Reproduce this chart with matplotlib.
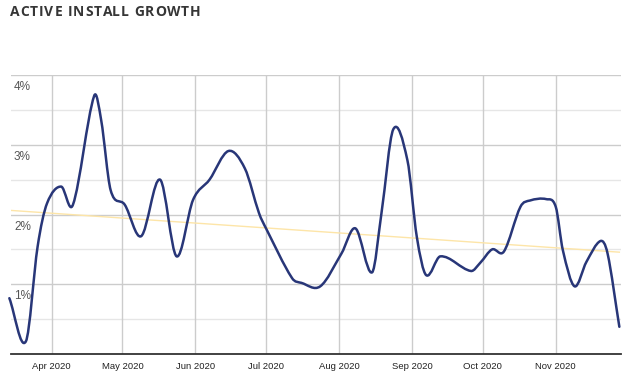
import numpy as np
import matplotlib.pyplot as plt
import matplotlib.dates as mdates
from matplotlib.path import Path
from matplotlib.patches import PathPatch

# Valores (crecimiento en %)
fechas = ['2020-03-14', '2020-03-21', '2020-03-26', '2020-03-30', '2020-04-05',
          '2020-04-10', '2020-04-19', '2020-04-22', '2020-04-26', '2020-05-02',
          '2020-05-09', '2020-05-17', '2020-05-24', '2020-05-31', '2020-06-07',
          '2020-06-15', '2020-06-22', '2020-06-28', '2020-07-01', '2020-07-12',
          '2020-07-16', '2020-07-24', '2020-08-02', '2020-08-08', '2020-08-15',
          '2020-08-19', '2020-08-24', '2020-08-30', '2020-09-03',
          '2020-09-07', '2020-09-13', '2020-09-26', '2020-09-30', '2020-10-05',
          '2020-10-10', '2020-10-17', '2020-10-21', '2020-10-28', '2020-11-01',
          '2020-11-04', '2020-11-09', '2020-11-14', '2020-11-20', '2020-11-23',
          '2020-11-28']
crecimiento = [0.80, 0.18, 1.54, 2.16, 2.40,
               2.14, 3.70, 3.35, 2.35, 2.14,
               1.69, 2.50, 1.40, 2.21, 2.50,
               2.91, 2.66, 2.02, 1.80, 1.09,
               1.02, 0.97, 1.44, 1.80, 1.17,
               2.02, 3.22, 2.78, 1.68,
               1.13, 1.40, 1.19, 1.31, 1.50,
               1.47, 2.11, 2.20, 2.22, 2.11,
               1.49, 0.97, 1.32, 1.62, 1.44,
               0.39]

# Línea de tendencia (extremos)
tendencia_fechas = ['2020-03-14', '2020-11-28']
tendencia = [2.06, 1.46]

meses = ['2020-04-01', '2020-05-01', '2020-06-01', '2020-07-01',
         '2020-08-01', '2020-09-01', '2020-10-01', '2020-11-01']
meses_txt = ['Apr 2020', 'May 2020', 'Jun 2020', 'Jul 2020',
             'Aug 2020', 'Sep 2020', 'Oct 2020', 'Nov 2020']
y_ticks = [1, 2, 3, 4]
y_txt = ['1%', '2%', '3%', '4%']

titulo = 'ACTIVE INSTALL GROWTH'

x = mdates.datestr2num(fechas)
y = np.array(crecimiento)


def curva_suave(x, y):
    # Hermite cúbica -> segmentos Bezier para la curva tipo "function"
    n = len(x)
    m = np.zeros(n)
    for i in range(n):
        a = max(i - 1, 0)
        b = min(i + 1, n - 1)
        m[i] = (y[b] - y[a]) / (x[b] - x[a])
    verts = [(x[0], y[0])]
    codes = [Path.MOVETO]
    for i in range(n - 1):
        dx = (x[i + 1] - x[i]) / 3
        verts += [(x[i] + dx, y[i] + m[i] * dx),
                  (x[i + 1] - dx, y[i + 1] - m[i + 1] * dx),
                  (x[i + 1], y[i + 1])]
        codes += [Path.CURVE4] * 3
    return Path(verts, codes)


fig = plt.figure(figsize=(6.32, 3.85), dpi=100)
ax = fig.add_axes([11 / 632, 31 / 385, 610 / 632, 279 / 385])

ax.set_xlim(x[0] + 0.7, x[-1] + 0.7)
ax.set_ylim(0, 4)

# Rejilla
for v in np.arange(0.5, 4.01, 0.5):
    mayor = abs(v - round(v)) < 1e-9
    ax.axhline(v, color='#cccccc' if mayor else '#e6e6e6', lw=1, zorder=0)
for mx in mdates.datestr2num(meses):
    ax.axvline(mx, color='#cccccc', lw=1, zorder=0)

ax.plot(mdates.datestr2num(tendencia_fechas), tendencia, color='#fde5a8', lw=1, zorder=1)
ax.add_patch(PathPatch(curva_suave(x, y), fill=False, edgecolor='#283678', lw=1.8,
                       capstyle='round', joinstyle='round', zorder=2, clip_on=False))

for s in ['top', 'left', 'right']:
    ax.spines[s].set_visible(False)
ax.spines['bottom'].set_color('#333333')
ax.spines['bottom'].set_linewidth(1.3)

ax.set_xticks(mdates.datestr2num(meses))
ax.set_xticklabels(meses_txt, fontsize=6.8, color='#222222', family='Liberation Sans')
ax.tick_params(axis='x', length=0, pad=6)
ax.set_yticks([])

for v, t in zip(y_ticks, y_txt):
    ax.annotate(t, (0, v), xycoords=('axes fraction', 'data'), xytext=(3, -6),
                textcoords='offset pixels', va='top', ha='left', fontsize=8.5,
                color='#555555', family='Liberation Sans')

# Título con espaciado entre letras
renderer = fig.canvas.get_renderer()
estilo = dict(fontsize=10, fontweight='bold', color='#363636',
              family='Open Sans', va='center', ha='left')
x0 = 10
espacio = 0.9
for i, c in enumerate(titulo):
    if i > 0:
        prov = fig.text(0, 0, titulo[:i] + '|', **estilo)
        barra = fig.text(0, 0, '|', **estilo)
        w = prov.get_window_extent(renderer).width - barra.get_window_extent(renderer).width
        prov.remove()
        barra.remove()
    else:
        w = 0
    fig.text((x0 + w + i * espacio) / 632, 1 - 12 / 385, c, **estilo)

fig.savefig('out.png', dpi=100)
